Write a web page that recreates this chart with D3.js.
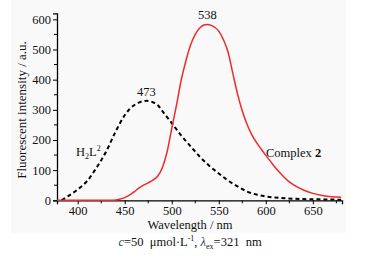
<!DOCTYPE html>
<html><head><meta charset="utf-8">
<script src="https://cdn.jsdelivr.net/npm/d3@7"></script>
<style>body{margin:0;background:#fff}svg{display:block}svg text{font-family:"Liberation Serif","DejaVu Serif",serif !important;fill:#111}</style>
</head><body><svg id="c" width="380" height="261"></svg>
<script>
const complexWl = [378,400,430,438,445,450,455,460,465,470,475,480,485,490,495,500,505,510,515,520,525,530,535,538,542,546,550,555,560,565,570,575,580,585,590,595,600,605,610,615,620,625,630,640,650,660,670,680];
const complexI  = [0,0,0,0,4,9,17,28,40,50,58,67,80,108,160,238,315,398,462,515,550,572,582,583,580,573,561,532,490,420,352,296,252,218,192,170,149,129,109,91,75,61,50,34,23,16,12,10];
const ligandWl = [383,390,400,410,420,430,440,450,455,460,465,470,473,480,485,490,495,500,510,520,530,540,550,560,570,580,590,600,620,640,660,680];
const ligandI  = [0,14,36,64,108,160,226,282,302,315,324,329,330,325,316,296,276,256,215,179,144,114,89,65,46,29,19,13,7,4,3,2];
const xTicks = [400,450,500,550,600,650];
const yTicks = [0,100,200,300,400,500,600];
const FONT = "'Liberation Serif','DejaVu Serif',serif";

const svg = d3.select("#c");
svg.append("rect").attr("x",11).attr("y",0).attr("width",335).attr("height",233).attr("fill","#f9f9f9");

const x = d3.scaleLinear().domain([378,681]).range([57,342]);
const y = d3.scaleLinear().domain([0,620]).range([200.3,13.3]);

const xAxis = d3.axisBottom(x).tickValues(xTicks).tickSize(4).tickPadding(2).tickFormat(d3.format("d"));
const gx = svg.append("g").attr("transform",`translate(0,${y(0)})`).call(xAxis);
gx.selectAll(".minor").data(d3.range(425,681,50)).enter().append("line").attr("class","minor")
  .attr("x1",d=>x(d)).attr("x2",d=>x(d)).attr("y1",0).attr("y2",3).attr("stroke","#000");

const yAxis = d3.axisLeft(y).tickValues(yTicks).tickSize(4).tickPadding(2).tickFormat(d3.format("d"));
const gy = svg.append("g").attr("transform",`translate(${x(378)},0)`).call(yAxis);
gy.selectAll(".minor").data(d3.range(50,620,100)).enter().append("line").attr("class","minor")
  .attr("x1",0).attr("x2",-3).attr("y1",d=>y(d)).attr("y2",d=>y(d)).attr("stroke","#000");

[gx,gy].forEach(g=>{
  g.attr("font-family",FONT).attr("font-size",12.5);
  g.select(".domain").attr("stroke","#000").attr("stroke-width",1.3);
  g.selectAll(".tick line").attr("stroke","#000");
  g.selectAll("text").attr("font-family",FONT).attr("font-size",12.5).attr("fill","#111");
});

function txt(xp,yp,anchor){return svg.append("text").attr("x",xp).attr("y",yp).attr("text-anchor",anchor||"start").attr("font-family",FONT).attr("font-size",12.5);}

txt(190,229,"middle").text("Wavelength / nm");
svg.append("text").attr("transform","translate(26,110) rotate(-90)").attr("text-anchor","middle").attr("font-family",FONT).attr("font-size",13).text("Fluorescent intensity / a.u.");

const line = d3.line().curve(d3.curveMonotoneX);
svg.append("path")
  .attr("d", line(ligandWl.map((w,i)=>[x(w),y(ligandI[i])])))
  .attr("fill","none").attr("stroke","#000").attr("stroke-width",2).attr("stroke-dasharray","4,3");
svg.append("path")
  .attr("d", line(complexWl.map((w,i)=>[x(w),y(complexI[i])])))
  .attr("fill","none").attr("stroke","#ee2a2a").attr("stroke-width",1.5);

txt(x(538),y(583)-5,"middle").text("538");
txt(x(473),y(330)-5,"middle").text("473");
const h = txt(76,156);
h.append("tspan").text("H");
h.append("tspan").attr("dy",3).attr("font-size",8).text("2");
h.append("tspan").attr("dy",-3).text("L");
h.append("tspan").attr("dy",-5).attr("font-size",8).text("2");
const cx = txt(266,157);
cx.append("tspan").text("Complex ");
cx.append("tspan").attr("font-weight","bold").text("2");

const cap = txt(190,246,"middle");
cap.append("tspan").attr("font-style","italic").attr("fill","#1f3f7a").text("c");
cap.append("tspan").text("=50 \u00a0μmol·L");
cap.append("tspan").attr("dy",-5).attr("font-size",8).text("-1");
cap.append("tspan").attr("dy",5).text(", ");
cap.append("tspan").attr("font-style","italic").attr("fill","#1f3f7a").text("λ");
cap.append("tspan").attr("dy",3).attr("font-size",8).text("ex");
cap.append("tspan").attr("dy",-3).text("=321 \u00a0nm");
</script></body></html>
